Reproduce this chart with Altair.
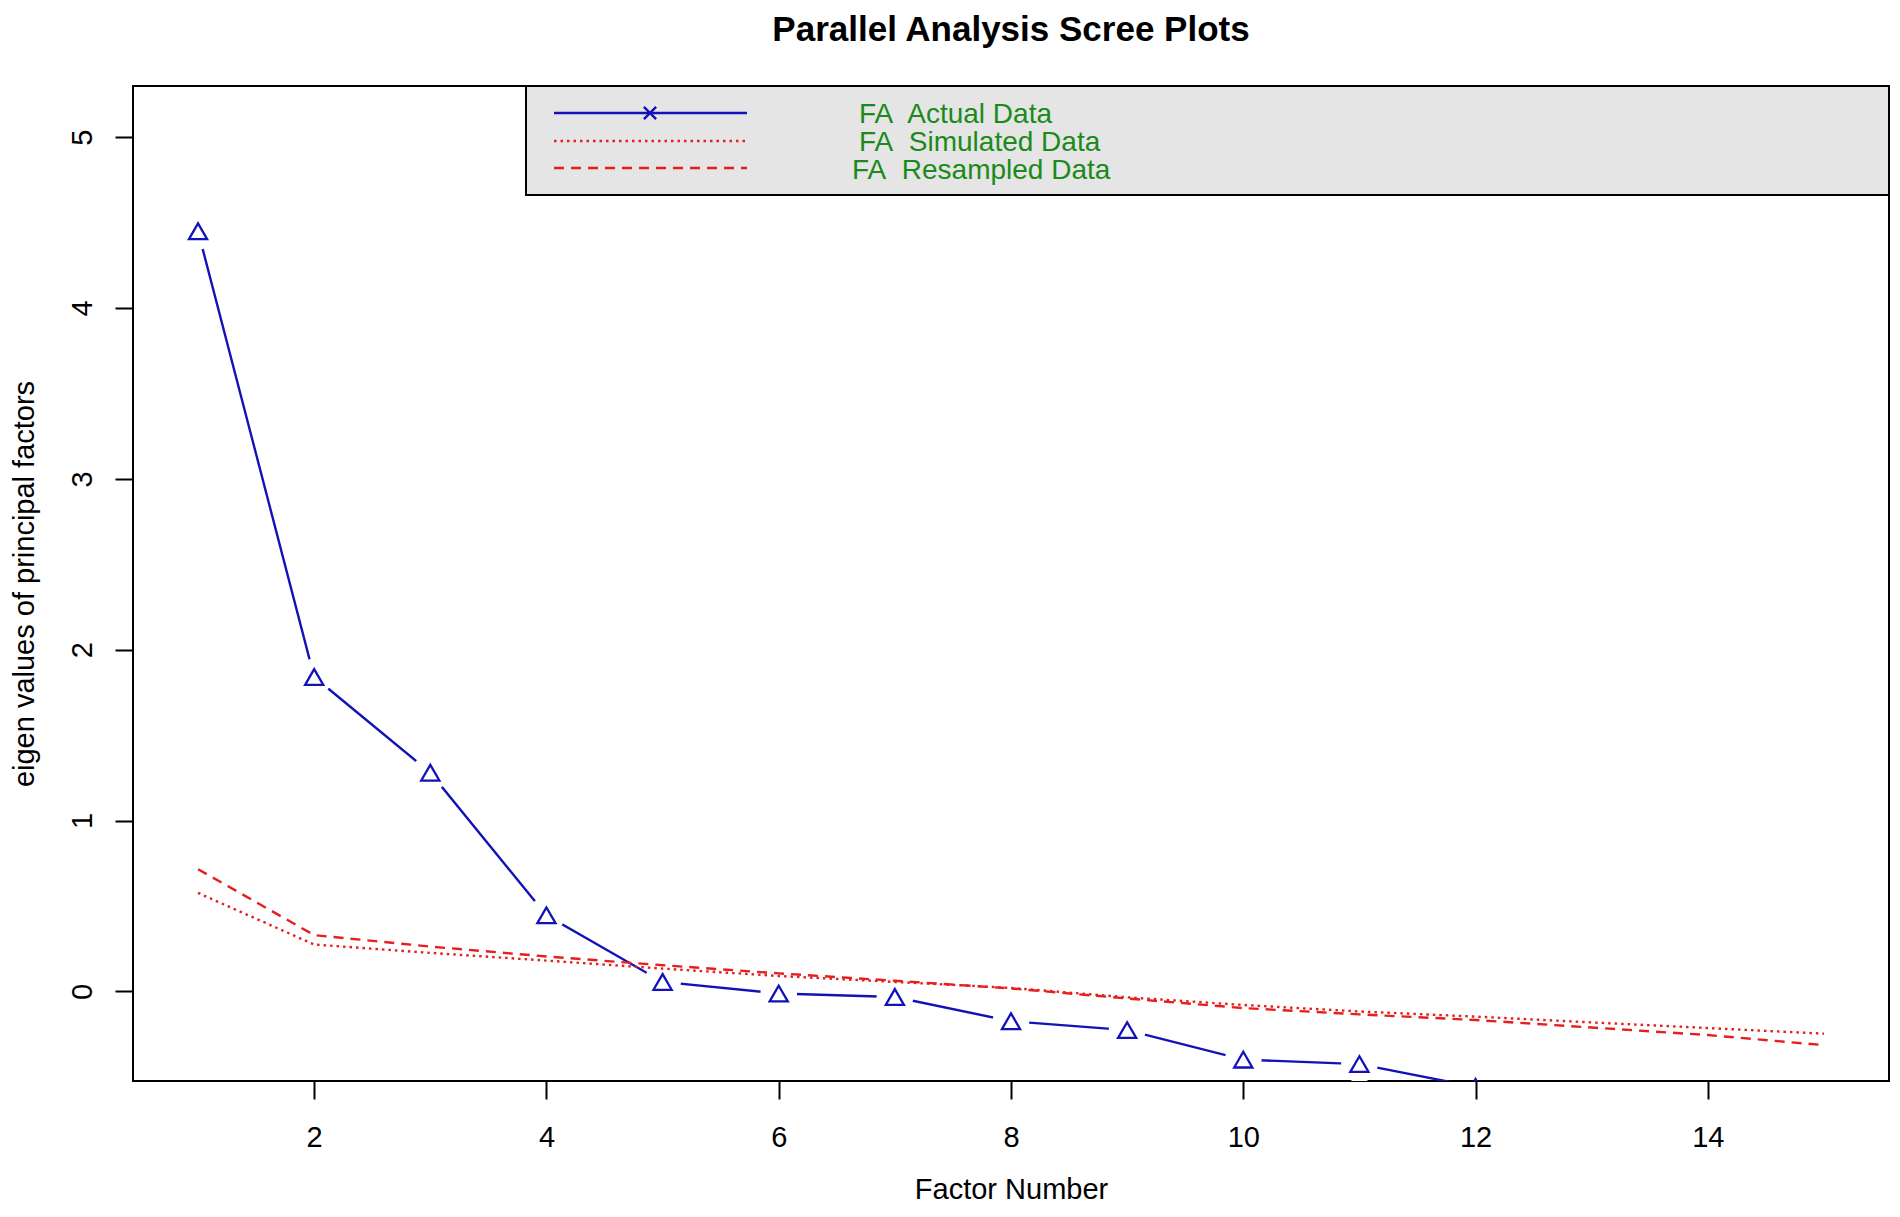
import altair as alt
import pandas as pd

# ---- data ----
factors = list(range(1, 16))
actual = [4.45, 1.84, 1.28, 0.445, 0.055, -0.013, -0.033, -0.175, -0.227, -0.40, -0.426, -0.56, -0.60, -0.65, -0.70]
simulated = [0.576, 0.274, 0.225, 0.180, 0.133, 0.090, 0.055, 0.020, -0.035, -0.080, -0.118, -0.148, -0.182, -0.215, -0.248]
resampled = [0.715, 0.329, 0.262, 0.204, 0.153, 0.105, 0.062, 0.017, -0.042, -0.098, -0.135, -0.168, -0.212, -0.256, -0.315]

x_ticks = [2, 4, 6, 8, 10, 12, 14]
y_ticks = [0, 1, 2, 3, 4, 5]
legend_labels = ["FA\u00a0 Actual Data", "FA\u00a0 Simulated Data", "FA\u00a0 Resampled Data"]

FONT = "Liberation Sans, Arial, Helvetica, sans-serif"
BLUE = "#1212b8"
RED = "#e61e1e"
GREEN = "#1b8a1b"

W, H = 1756, 995

df = pd.DataFrame({"factor": factors, "actual": actual,
                   "simulated": simulated, "resampled": resampled})

xs = alt.Scale(domain=[0.44, 15.56], nice=False, zero=False)
ys = alt.Scale(domain=[-0.525, 5.30], nice=False, zero=False)

x_axis = alt.Axis(
    values=x_ticks, format="d", title="Factor Number", grid=False, domain=False,
    tickSize=18, tickWidth=2, tickColor="black", labelPadding=24,
    labelFontSize=29, labelFont=FONT, labelColor="black", labelBaseline="top",
    titleFontSize=29, titleFont=FONT, titleFontWeight="normal", titleColor="black",
    titlePadding=23, labelFlush=False)

y_axis = alt.Axis(
    values=y_ticks, format="d", title="eigen values of principal factors", grid=False,
    domain=False, tickSize=18, tickWidth=2, tickColor="black",
    labelPadding=18, labelFontSize=29, labelFont=FONT, labelColor="black",
    labelAngle=270, labelAlign="center", labelBaseline="bottom",
    titleFontSize=29, titleFont=FONT, titleFontWeight="normal",
    titleColor="black", titlePadding=29, labelFlush=False)


def xe():
    return alt.X("factor:Q", scale=xs, axis=x_axis, title="Factor Number")


def ye(field):
    return alt.Y(f"{field}:Q", scale=ys, axis=y_axis, title="eigen values of principal factors")


base = alt.Chart(df)

blue_line = base.mark_line(color=BLUE, strokeWidth=2.4, clip=True).encode(
    x=xe(), y=ye("actual"))

mask = base.transform_filter(alt.datum.actual > -0.5).mark_point(
    shape="circle", filled=True, fill="white", stroke="white", opacity=1,
    fillOpacity=1, size=1200, clip=True
).encode(x=xe(), y=ye("actual"))

sim_line = base.mark_line(color=RED, strokeWidth=2.4, strokeDash=[2.5, 4], clip=True).encode(
    x=xe(), y=ye("simulated"))

res_line = base.mark_line(color=RED, strokeWidth=2.4, strokeDash=[10, 7], clip=True).encode(
    x=xe(), y=ye("resampled"))

tri = base.mark_point(shape="triangle-up", filled=False, color=BLUE, strokeWidth=2.3,
                      size=330, opacity=1, clip=True).encode(
    x=xe(), y=ye("actual"))

# ---- legend box (drawn inside the plot, top right) ----
leg_df = pd.DataFrame({"label": legend_labels, "row": [0, 1, 2]})
one = pd.DataFrame({"k": [0]})

leg_box = alt.Chart(one).mark_rect(
    fill="#e5e5e5", stroke="black", strokeWidth=2).encode(
    x=alt.value(393), x2=alt.value(W), y=alt.value(0), y2=alt.value(109))

leg_actual = alt.Chart(one).mark_rule(
    color=BLUE, strokeWidth=2.4).encode(x=alt.value(421), x2=alt.value(614), y=alt.value(27))
leg_sim = alt.Chart(one).mark_rule(
    color=RED, strokeWidth=2.4, strokeDash=[2.5, 4]).encode(x=alt.value(421), x2=alt.value(614), y=alt.value(55))
leg_res = alt.Chart(one).mark_rule(
    color=RED, strokeWidth=2.4, strokeDash=[10, 7]).encode(x=alt.value(421), x2=alt.value(614), y=alt.value(82))
leg_x = alt.Chart(one).mark_point(
    shape="M-1,-1L1,1M-1,1L1,-1", filled=False, color=BLUE, strokeWidth=2.4,
    size=150, opacity=1).encode(x=alt.value(517), y=alt.value(27))


def leg_text(i, x, y):
    return alt.Chart(leg_df.iloc[[i]]).mark_text(
        align="left", baseline="middle", font=FONT, fontSize=28, color=GREEN).encode(
        text="label:N", x=alt.value(x), y=alt.value(y))


chart = alt.layer(
    blue_line, mask, sim_line, res_line, tri,
    leg_box, leg_actual, leg_sim, leg_res, leg_x,
    leg_text(0, 726, 29), leg_text(1, 726, 57), leg_text(2, 719, 84.5)
).properties(
    width=W, height=H,
    title=alt.TitleParams(text="Parallel Analysis Scree Plots", font=FONT, fontSize=35,
                          fontWeight="bold", color="black", anchor="middle", offset=37),
    autosize=alt.AutoSizeParams(type="none"),
    padding={"left": 125, "top": 78, "right": 2, "bottom": 124},
).configure(
    background="white",
    view=alt.ViewConfig(stroke="black", strokeWidth=2),
)

chart.save("out.html", embed_options={"renderer": "svg", "actions": False})
